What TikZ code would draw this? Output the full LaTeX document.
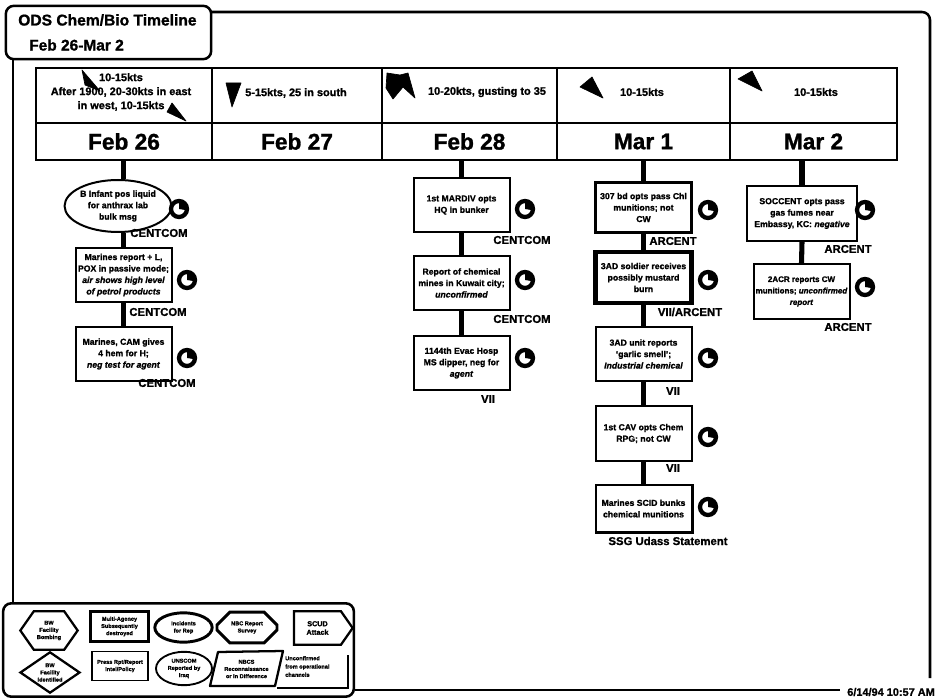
\documentclass[tikz,border=0pt]{standalone}
\usepackage{fontspec}
\setmainfont[BoldFeatures={FakeBold=1.2}, BoldItalicFeatures={FakeBold=1.2}]{Liberation Sans}
\usetikzlibrary{positioning, shapes.geometric, shapes.misc, shapes.symbols}

\begin{document}
\begin{tikzpicture}[x=0.75pt, y=-0.75pt,
		frameline/.style={line width=1.9pt, rounded corners=6pt},
		cell/.style={draw, rectangle, line width=1.5pt, inner sep=0pt},
		windcell/.style={cell, minimum height=41.25pt},
		datecell/.style={cell, minimum height=27.75pt, font=\bfseries\fontsize{17}{19}\selectfont},
		windtext/.style={align=center, inner sep=0pt, font=\bfseries\fontsize{8.2}{10.5}\selectfont},
		windmark/.style={fill=black, draw=black, line width=0.5pt, line join=round},
		stem/.style={line width=3.8pt},
		event/.style={draw, rectangle, line width=1.5pt, minimum width=72pt, minimum height=41pt, inner sep=0pt, align=center, fill=white, font=\bfseries\fontsize{6.5}{8.6}\selectfont},
		eventalt/.style={event, ellipse, minimum width=65pt, minimum height=39pt},
		source/.style={inner sep=0pt, font=\bfseries\fontsize{8.5}{9}\selectfont},
		clockmark/.style={draw, circle, line width=3.2pt, minimum size=12pt, inner sep=0pt, fill=white,
			path picture={\fill[black] (path picture bounding box.center) -- ++(0pt,6pt) -- ++(6pt,0pt) -- ++(0pt,-7pt) -- cycle;}},
		legendshape/.style={draw, line width=1.7pt, inner sep=0pt, align=center, font=\bfseries\fontsize{4.2}{5.4}\selectfont},
	]
		\useasboundingbox (0, 0) rectangle (938, 698);
		\node[draw, rectangle, rounded corners=6pt, line width=1.9pt, minimum width=154pt, minimum height=40pt, fill=white] (title) at (108.5, 32.5) {};
		\node[anchor=west, inner sep=0pt, font=\bfseries\fontsize{11.7}{13}\selectfont] (titlea) at (18, 20) {ODS Chem/Bio Timeline};
		\node[anchor=west, inner sep=0pt, font=\bfseries\fontsize{11.6}{13}\selectfont] (titleb) at (29, 45) {Feb 26-Mar 2};
		\node[draw, rectangle, rounded corners=6pt, line width=1.9pt, minimum width=263pt, minimum height=70pt] (legend) at (178.5, 650) {};
		\coordinate (frameleft) at (13, 60);
		\coordinate (frametop) at (212, 12);
		\coordinate (framecorner) at (930, 12);
		\coordinate (frameend) at (930, 678);
		\coordinate (framelow) at (840, 690);
		\draw[frameline] (frameleft) -- (13, 604);
		\draw[frameline] (frametop) -- (framecorner) -- (frameend);
		\draw[frameline] (legend.east |- framelow) -- (framelow);
		\node[anchor=west, inner sep=0pt, font=\bfseries\fontsize{8.2}{10}\selectfont] (stamp) at (847, 692) {6/14/94 10:57 AM};

		\node[windcell, minimum width=132pt] (windfeb26) at (124, 95.5) {};
		\node[windcell, minimum width=127.5pt] (windfeb27) at (297, 95.5) {};
		\node[windcell, minimum width=131.25pt] (windfeb28) at (469.5, 95.5) {};
		\node[windcell, minimum width=129.75pt] (windmar1) at (643.5, 95.5) {};
		\node[windcell, minimum width=125.25pt] (windmar2) at (813.5, 95.5) {};
		\node[datecell, minimum width=132pt] (feb26) at (124, 141.5) {Feb 26};
		\node[datecell, minimum width=127.5pt] (feb27) at (297, 141.5) {Feb 27};
		\node[datecell, minimum width=131.25pt] (feb28) at (469.5, 141.5) {Feb 28};
		\node[datecell, minimum width=129.75pt] (mar1) at (643.5, 141.5) {Mar 1};
		\node[datecell, minimum width=125.25pt] (mar2) at (813.5, 141.5) {Mar 2};

		\node[windtext] (windtexta) at (121, 92) {10-15kts\\After 1900, 20-30kts in east\\in west, 10-15kts};
		\node[windtext] (windtextb) at (296, 93) {5-15kts, 25 in south};
		\node[windtext] (windtextc) at (487, 92) {10-20kts, gusting to 35};
		\node[windtext] (windtextd) at (642, 92) {10-15kts};
		\node[windtext] (windtexte) at (816, 92) {10-15kts};
		\draw[windmark] (82, 70) -- (100, 91) -- (85, 85) -- cycle;
		\draw[windmark] (172, 103) -- (186, 121) -- (167, 112) -- cycle;
		\draw[windmark] (226, 83) -- (241, 83) -- (232, 107) -- cycle;
		\draw[windmark] (387, 73) -- (400, 75) -- (408, 73) -- (415, 98) -- (403, 87) -- (393, 99) -- (386, 88) -- cycle;
		\draw[windmark] (592, 77) -- (603, 98) -- (580, 87) -- cycle;
		\draw[windmark] (752, 71) -- (762, 91) -- (738, 79) -- cycle;

		\node[eventalt] (feb26a) at (118, 206) {B Infant pos liquid\\for anthrax lab\\bulk msg};
		\node[event] (feb26b) at (123.5, 275) {Marines report + L,\\POX in passive mode;\\\textit{air shows high level}\\\textit{of petrol products}};
		\node[event] (feb26c) at (123.5, 354) {Marines, CAM gives\\4 hem for H;\\\textit{neg test for agent}};
		\draw[stem] (feb26b.north |- feb26.south) -- (feb26b.north |- feb26a.north);
		\draw[stem] (feb26b.north |- feb26a.south) -- (feb26b.north);
		\draw[stem] (feb26b.south) -- (feb26c.north);
		\node[clockmark] (clocka) at (179, 209) {};
		\node[clockmark] (clockb) at (187, 280) {};
		\node[clockmark] (clockc) at (187, 358) {};
		\node[source] (sourcea) at (159, 233) {CENTCOM};
		\node[source] (sourceb) at (158, 312) {CENTCOM};
		\node[source] (sourcec) at (167, 383) {CENTCOM};

		\node[event] (feb28a) at (461.5, 205) {1st MARDIV opts\\HQ in bunker};
		\node[event] (feb28b) at (461.5, 283) {Report of chemical\\mines in Kuwait city;\\\textit{unconfirmed}};
		\node[event] (feb28c) at (461.5, 363) {1144th Evac Hosp\\MS dipper, neg for\\\textit{agent}};
		\draw[stem] (feb28a.north |- feb28.south) -- (feb28a.north);
		\draw[stem] (feb28a.south) -- (feb28b.north);
		\draw[stem] (feb28b.south) -- (feb28c.north);
		\node[clockmark] (clockd) at (525, 209) {};
		\node[clockmark] (clocke) at (525, 280) {};
		\node[clockmark] (clockf) at (525, 358) {};
		\node[source] (sourced) at (522, 240) {CENTCOM};
		\node[source] (sourcee) at (522, 319) {CENTCOM};
		\node[source] (sourcef) at (488, 399) {VII};

		\node[event, line width=2.2pt, minimum height=38pt] (mar1a) at (643.5, 207.5) {307 bd opts pass Chl\\munitions;  not\\CW};
		\node[event, line width=3.2pt, minimum height=38pt] (mar1b) at (643.5, 277.5) {3AD soldier receives\\possibly mustard\\burn};
		\node[event] (mar1c) at (643.5, 354) {3AD unit reports\\`garlic smell';\\\textit{Industrial chemical}};
		\node[event] (mar1d) at (643.5, 433.5) {1st CAV opts Chem\\RPG; not CW};
		\node[event, minimum height=35pt] (mar1e) at (643.5, 508.5) {Marines SCID bunks\\chemical munitions};
		\draw[line width=2.4pt] (mar1e.north east) -- (mar1e.south east) -- (mar1e.south west);
		\draw[stem] (mar1a.north |- mar1.south) -- (mar1a.north);
		\draw[stem] (mar1a.south) -- (mar1b.north);
		\draw[stem] (mar1b.south) -- (mar1c.north);
		\draw[stem] (mar1c.south) -- (mar1d.north);
		\draw[stem] (mar1d.south) -- (mar1e.north);
		\node[clockmark] (clockg) at (708, 210) {};
		\node[clockmark] (clockh) at (708, 280) {};
		\node[clockmark] (clocki) at (708, 358) {};
		\node[clockmark] (clockj) at (708, 437) {};
		\node[clockmark] (clockk) at (708, 507) {};
		\node[source] (sourceg) at (673, 241) {ARCENT};
		\node[source] (sourceh) at (690, 312) {VII/ARCENT};
		\node[source] (sourcei) at (673, 391) {VII};
		\node[source] (sourcej) at (673, 468) {VII};
		\node[source] (sourcek) at (668, 541) {SSG Udass Statement};

		\node[event, minimum width=83pt] (mar2a) at (802, 213.5) {SOCCENT opts pass\\gas fumes near\\Embassy, KC: \textit{negative}};
		\node[event, font=\bfseries\fontsize{6}{8.6}\selectfont] (mar2b) at (801.5, 291.5) {2ACR reports CW\\munitions; \textit{unconfirmed}\\\textit{report}};
		\draw[stem] (mar2a.north |- mar2.south) -- (mar2a.north);
		\draw[stem] (mar2a.south) -- (mar2b.north);
		\node[clockmark] (clockl) at (865, 210) {};
		\node[clockmark] (clockm) at (865, 287) {};
		\node[source] (sourcel) at (848, 249) {ARCENT};
		\node[source] (sourcem) at (848, 327) {ARCENT};

		\node[legendshape, signal, signal to=east and west, signal pointer angle=110, minimum width=43pt, minimum height=29pt] (keyhex) at (49, 630.5) {BW\\Facility\\Bombing};
		\node[legendshape, rectangle, line width=2.2pt, minimum width=43pt, minimum height=23pt] (keysquare) at (119.5, 626.5) {Multi-Agency\\Subsequently\\destroyed};
		\node[legendshape, ellipse, line width=2.2pt, minimum width=43pt, minimum height=22pt] (keyoval) at (183.5, 627.5) {Incidents\\for Rep};
		\node[legendshape, chamfered rectangle, chamfered rectangle xsep=6pt, chamfered rectangle ysep=5pt, line width=2.2pt, minimum width=45pt, minimum height=23pt] (keyoct) at (247, 627.5) {NBC Report\\Survey};
		\node[legendshape, signal, signal to=east, signal pointer angle=110, minimum width=44pt, minimum height=25pt, font=\bfseries\fontsize{5.4}{6.4}\selectfont] (keyscud) at (317.5, 628) {SCUD\\Attack};
		\node[legendshape, diamond, aspect=1.45, minimum width=45pt, minimum height=31pt] (keydiamond) at (50, 672.5) {BW\\Facility\\Identified};
		\node[legendshape, rectangle, line width=1.2pt, minimum width=42pt, minimum height=22pt] (keypress) at (120, 666) {Press Rpt/Report\\Intel/Policy};
		\node[legendshape, ellipse, line width=1.4pt, minimum width=42pt, minimum height=25pt] (keyunscom) at (184, 668.5) {UNSCOM\\Reported by\\Iraq};
		\draw[line width=1.7pt, line join=round] (218, 652) -- (283, 651) -- (275, 686) -- (210, 686) -- cycle;
		\node[align=center, inner sep=0pt, font=\bfseries\fontsize{4.2}{5.4}\selectfont] (keypara) at (246.5, 669) {NBCS\\Reconnaissance\\or In Difference};
		\node[anchor=west, align=left, inner sep=0pt, font=\bfseries\fontsize{4.2}{6.2}\selectfont] (keynote) at (285, 666.5) {Unconfirmed\\from operational\\channels};
		\draw[line width=2.2pt] (348, 655) -- (348, 688) -- (277, 688);
	\end{tikzpicture}
\end{document}
